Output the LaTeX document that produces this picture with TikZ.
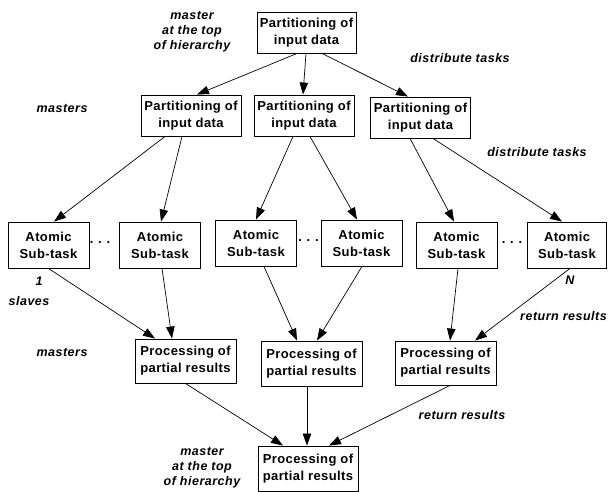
\documentclass[tikz,border=0pt]{standalone}
\usepackage{fontspec}
\setmainfont{Liberation Sans}
\usetikzlibrary{arrows.meta}
\begin{document}
\begin{tikzpicture}[x=1pt,y=-1pt,
  box/.style={draw,line width=0.9pt,inner sep=0pt,align=center,
    font=\fontsize{13}{17}\selectfont\bfseries\addfontfeature{LetterSpace=3}},
  pbox/.style={box,minimum width=100pt,minimum height=41pt},
  abox/.style={box,minimum width=81pt,minimum height=46pt},
  rbox/.style={box,minimum width=101pt,minimum height=44pt},
  lbl/.style={inner sep=0pt,align=center,font=\fontsize{12.5}{15}\selectfont\bfseries\itshape\addfontfeature{LetterSpace=4}},
  arr/.style={line width=0.7pt,-{Triangle[length=12pt,width=8.5pt]}},
  dots/.style={inner sep=0pt,font=\fontsize{13}{15}\selectfont\bfseries}]
\useasboundingbox (0,0) rectangle (608,492);

\node[pbox,minimum width=99pt] (top) at (306.5,32.5) {Partitioning of\\input data};
\node[pbox] (p1) at (191,115.5) {Partitioning of\\input data};
\node[pbox] (p2) at (304,115.5) {Partitioning of\\input data};
\node[pbox] (p3) at (420.5,117.5) {Partitioning of\\input data};

\node[abox] (a1) at (48.5,245) {Atomic\\Sub-task};
\node[abox] (a2) at (160,245) {Atomic\\Sub-task};
\node[abox] (a3) at (256,243) {Atomic\\Sub-task};
\node[abox] (a4) at (361.5,243) {Atomic\\Sub-task};
\node[abox] (a5) at (456.5,245) {Atomic\\Sub-task};
\node[abox,minimum width=79pt] (a6) at (567,245) {Atomic\\Sub-task};

\node[dots] (d1) at (100,243) {. . .};
\node[dots] (d2) at (308.5,241) {. . .};
\node[dots] (d3) at (512,243) {. . .};

\node[rbox] (r1) at (185.5,361) {Processing of\\partial results};
\node[rbox,minimum height=45pt] (r2) at (311.5,363.5) {Processing of\\partial results};
\node[rbox] (r3) at (445.5,363) {Processing of\\partial results};
\node[rbox,minimum width=100pt,minimum height=45pt] (fin) at (308,468.5) {Processing of\\partial results};

% labels
\node[lbl] (m1) at (192,32) {master\\at the top\\of hierarchy};
\node[lbl] (dist1) at (460,58) {distribute tasks};
\node[lbl] (ms1) at (62,108) {masters};
\node[lbl] (dist2) at (537,152) {distribute tasks};
\node[lbl] (one) at (39,281) {1};
\node[lbl] (slaves) at (29,301) {slaves};
\node[lbl] (N) at (570,280) {N};
\node[lbl,anchor=east] (ret1) at (607,316) {return results};
\node[lbl] (ms2) at (62,352) {masters};
\node[lbl] (ret2) at (462,415) {return results};
\node[lbl] (m2) at (202,468) {master\\at the top\\of hierarchy};

% arrows top -> level 2
\draw[arr] ([xshift=-9.5pt]top.south) -- ([xshift=6pt]p1.north);
\draw[arr] ([xshift=-0.5pt]top.south) -- ([xshift=-1pt]p2.north);
\draw[arr] ([xshift=15.5pt]top.south) -- ([xshift=-12.5pt]p3.north);
% level 2 -> atomic
\draw[arr] ([xshift=-26pt]p1.south) -- ([xshift=5.5pt]a1.north);
\draw[arr] ([xshift=-9pt]p1.south) -- ([xshift=1pt]a2.north);
\draw[arr] ([xshift=-11pt]p2.south) -- (a3.north);
\draw[arr] ([xshift=6pt]p2.south) -- ([xshift=-4.5pt]a4.north);
\draw[arr] ([xshift=-10.5pt]p3.south) -- ([xshift=-2.5pt]a5.north);
\draw[arr] ([xshift=12.5pt]p3.south) -- ([xshift=-5pt]a6.north);
% atomic -> processing
\draw[arr] (a1.south) -- ([xshift=-30.5pt]r1.north);
\draw[arr] ([xshift=2pt]a2.south) -- ([xshift=-13.5pt]r1.north);
\draw[arr] ([xshift=8pt]a3.south) -- ([xshift=-14.5pt]r2.north);
\draw[arr] ([xshift=0.5pt]a4.south) -- ([xshift=5.5pt]r2.north);
\draw[arr] ([xshift=1.5pt]a5.south) -- ([xshift=4.5pt]r3.north);
\draw[arr] ([xshift=3pt]a6.south) -- ([xshift=29.5pt]r3.north);
% processing -> final
\draw[arr] (r1.south) -- ([xshift=-25pt]fin.north);
\draw[arr] ([xshift=-4.5pt]r2.south) -- ([xshift=-1pt]fin.north);
\draw[arr] ([xshift=4.5pt]r3.south) -- ([xshift=21pt]fin.north);
\end{tikzpicture}
\end{document}
